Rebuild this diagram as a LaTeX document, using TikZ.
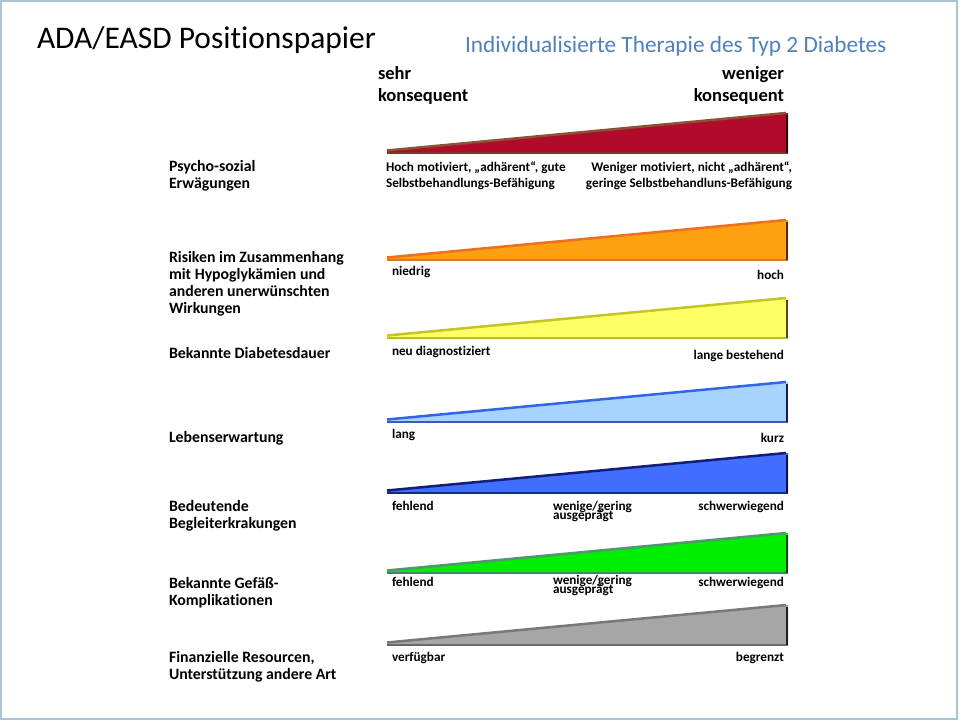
\documentclass[tikz,border=0pt]{standalone}
\usepackage{fontspec}
\setmainfont{Carlito}[RawFeature={-liga;-clig;-calt}]
\definecolor{framec}{RGB}{168,198,214}
\definecolor{subc}{RGB}{79,129,189}
\definecolor{redF}{RGB}{178,10,42}\definecolor{redT}{RGB}{140,82,52}\definecolor{redB}{RGB}{115,60,40}\definecolor{redR}{RGB}{30,10,10}
\definecolor{oraF}{RGB}{255,160,16}\definecolor{oraT}{RGB}{235,112,32}\definecolor{oraB}{RGB}{215,120,50}\definecolor{oraR}{RGB}{80,40,10}
\definecolor{yelF}{RGB}{255,255,102}\definecolor{yelT}{RGB}{196,196,40}\definecolor{yelB}{RGB}{185,185,60}\definecolor{yelR}{RGB}{75,75,20}
\definecolor{lblF}{RGB}{166,212,255}\definecolor{lblT}{RGB}{50,100,230}\definecolor{lblB}{RGB}{60,90,190}\definecolor{lblR}{RGB}{20,30,80}
\definecolor{bluF}{RGB}{64,110,255}\definecolor{bluT}{RGB}{20,30,120}\definecolor{bluB}{RGB}{20,40,140}\definecolor{bluR}{RGB}{10,15,60}
\definecolor{grnF}{RGB}{0,238,0}\definecolor{grnT}{RGB}{80,150,110}\definecolor{grnB}{RGB}{60,140,90}\definecolor{grnR}{RGB}{20,60,30}
\definecolor{gryF}{RGB}{166,166,166}\definecolor{gryT}{RGB}{120,120,120}\definecolor{gryB}{RGB}{105,105,105}\definecolor{gryR}{RGB}{30,30,30}
\newcommand{\mywedge}[2]{%
  \fill[#2F] (387,#1) -- (387,#1-2) -- (788,#1-40) -- (788,#1) -- cycle;
  \draw[#2T, line width=2.5pt] (387,#1-2.5) -- (786,#1-40);
  \draw[#2B, line width=1.6pt] (387,#1) -- (788,#1);
  \draw[#2R, line width=2.8pt] (787,#1-38.5) -- (787,#1);
}
\begin{document}
\begin{tikzpicture}[x=1pt,y=-1pt,
  every node/.style={inner sep=0pt, outer sep=0pt},
  rowlab/.style={anchor=base west, font=\fontsize{15.8}{17}\selectfont\bfseries},
  caplab/.style={anchor=base west, font=\fontsize{13.2}{14}\selectfont\bfseries},
  caprt/.style={anchor=base east, font=\fontsize{13.2}{14}\selectfont\bfseries},
  headlab/.style={font=\fontsize{18.5}{20}\selectfont\bfseries}]
\useasboundingbox (0,0) rectangle (960,720);
\fill[white] (0,0) rectangle (960,720);
\draw[framec, line width=1.5pt] (1,1) rectangle (957,719);

\node[anchor=base west, font=\fontsize{31.5}{34}\selectfont] (title) at (37,48) {ADA/EASD Positionspapier};
\node[anchor=base west, font=\fontsize{23.3}{25}\selectfont, text=subc] (subtitle) at (465,52) {Individualisierte Therapie des Typ 2 Diabetes};
\node[headlab, anchor=base west] (sehr1) at (378,79) {sehr};
\node[headlab, anchor=base west] (sehr2) at (378,101) {konsequent};
\node[headlab, anchor=base east] (wen1) at (784,79) {weniger};
\node[headlab, anchor=base east] (wen2) at (784,101) {konsequent};

% wedges
\mywedge{153}{red}
\mywedge{260}{ora}
\mywedge{338}{yel}
\mywedge{422}{lbl}
\mywedge{493}{blu}
\mywedge{573}{grn}
\mywedge{645}{gry}

% row 1
\node[rowlab] (r1a) at (169,171) {Psycho-sozial};
\node[rowlab] (r1b) at (169,188) {Erwägungen};
\node[caplab] (c1a) at (386,171) {Hoch motiviert, „adhärent“, gute};
\node[caplab] (c1b) at (386,187) {Selbstbehandlungs-Befähigung};
\node[caprt] (c1c) at (792,171) {Weniger motiviert, nicht „adhärent“,};
\node[caprt] (c1d) at (792,187) {geringe Selbstbehandluns-Befähigung};

% row 2
\node[rowlab] (r2a) at (169,262) {Risiken im Zusammenhang};
\node[rowlab] (r2b) at (169,279) {mit Hypoglykämien und};
\node[rowlab] (r2c) at (169,296) {anderen unerwünschten};
\node[rowlab] (r2d) at (169,313) {Wirkungen};
\node[caplab] (c2a) at (392,275) {niedrig};
\node[caprt] (c2b) at (784,279) {hoch};

% row 3
\node[rowlab] (r3a) at (169,358) {Bekannte Diabetesdauer};
\node[caplab] (c3a) at (392,355) {neu diagnostiziert};
\node[caprt] (c3b) at (784,359) {lange bestehend};

% row 4
\node[rowlab] (r4a) at (169,442) {Lebenserwartung};
\node[caplab] (c4a) at (392,438) {lang};
\node[caprt] (c4b) at (784,442) {kurz};

% row 5
\node[rowlab] (r5a) at (169,511) {Bedeutende};
\node[rowlab] (r5b) at (169,528) {Begleiterkrakungen};
\node[caplab] (c5a) at (392,510) {fehlend};
\node[caplab] (c5b) at (553,510) {wenige/gering};
\node[caplab] (c5c) at (553,519) {ausgeprägt};
\node[caprt] (c5d) at (784,510) {schwerwiegend};

% row 6
\node[rowlab] (r6a) at (169,588) {Bekannte Gefäß-};
\node[rowlab] (r6b) at (169,605) {Komplikationen};
\node[caplab] (c6a) at (392,586) {fehlend};
\node[caplab] (c6b) at (553,584) {wenige/gering};
\node[caplab] (c6c) at (553,593) {ausgeprägt};
\node[caprt] (c6d) at (784,586) {schwerwiegend};

% row 7
\node[rowlab] (r7a) at (169,662) {Finanzielle Resourcen,};
\node[rowlab] (r7b) at (169,679) {Unterstützung andere Art};
\node[caplab] (c7a) at (392,661) {verfügbar};
\node[caprt] (c7b) at (784,661) {begrenzt};
\end{tikzpicture}
\end{document}
